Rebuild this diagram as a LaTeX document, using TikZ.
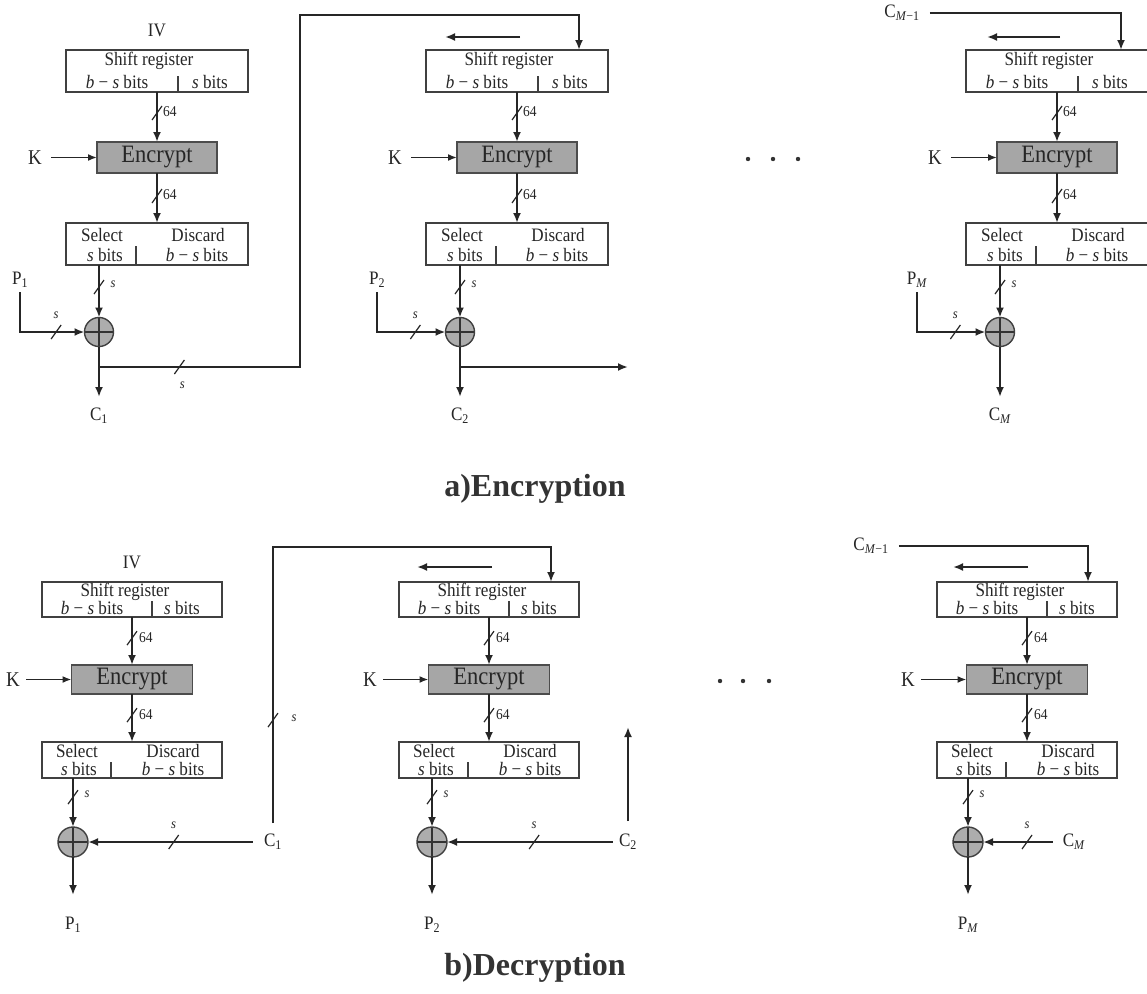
\documentclass[tikz,border=0pt]{standalone}
\usepackage{fontspec}
\setmainfont{Liberation Serif}
\newfontfamily\dgfont{Liberation Serif}[FakeStretch=0.9]
\usetikzlibrary{arrows.meta,calc}
\tikzset{
  slash/.pic={\draw[-, black!85, line width=1.2pt] (-5,7) -- (5,-7);},
  reg/.style={draw=black!75, line width=1.5pt, fill=white, minimum width=182pt, inner sep=0pt, outer sep=0pt},
  encbox/.style={draw=black!70, line width=1.5pt, fill=black!35, minimum width=120pt, inner sep=0pt, outer sep=0pt, font=\dgfont\fontsize{25}{26}\selectfont, text=black!85},
  xorc/.style={circle, draw=black!75, line width=1.4pt, fill=black!32, minimum size=29pt, inner sep=0pt, outer sep=0pt, path picture={\draw[black!80, line width=1.1pt] (path picture bounding box.west) -- (path picture bounding box.east) (path picture bounding box.north) -- (path picture bounding box.south);}},
  btxt/.style={inner sep=0pt, font=\dgfont\fontsize{19}{20}\selectfont, text=black!85},
  lbl/.style={inner sep=1pt, font=\dgfont\fontsize{19}{20}\selectfont, text=black!85},
  klbl/.style={inner sep=1pt, font=\dgfont\fontsize{21}{22}\selectfont, text=black!85},
  nlbl/.style={inner sep=0pt, font=\dgfont\fontsize{15}{16}\selectfont, text=black!85},
  slbl/.style={inner sep=0pt, font=\dgfont\fontsize{14}{15}\selectfont\itshape, text=black!85},
  arr/.style={-{Latex[length=10pt,width=8pt]}, line width=2.3pt, draw=black!85},
  karr/.style={-{Latex[length=9pt,width=7pt]}, line width=1.7pt, draw=black!85},
  divline/.style={draw=black!75, line width=1.3pt},
  captxt/.style={inner sep=0pt, font=\fontsize{32}{34}\selectfont\bfseries, text=black!80},
}
\newcommand\TopCore[3]{%
  \node[reg, minimum height=42pt] (sr#1) at (#2,71) {};
  \node[btxt] (srt#1) at (#2-8,61) {Shift register};
  \node[btxt] (srl#1) at (#2-40,82) {\textit{b} − \textit{s} bits};
  \node[btxt] (srr#1) at (#2+53,82) {\textit{s} bits};
  \draw[divline] (#2+21,76) -- (#2+21,92);
  \node[encbox, minimum height=31pt] (enc#1) at (#2,157.5) {Encrypt};
  \node[klbl] (k#1) at (#2-122,157.5) {K};
  \draw[karr, shorten <=8pt] (k#1) -- (enc#1);
  \node[reg, minimum height=42pt] (sel#1) at (#2,244) {};
  \node[btxt] (selt#1) at (#2-55,235) {Select};
  \node[btxt] (dist#1) at (#2+41,235) {Discard};
  \node[btxt] (sell#1) at (#2-52,255) {\textit{s} bits};
  \node[btxt] (disl#1) at (#2+40,255) {\textit{b} − \textit{s} bits};
  \draw[divline] (#2-21,246) -- (#2-21,265);
  \node[xorc] (x#1) at (#3,332) {};
  \draw[arr] (sr#1) -- coordinate[pos=0.42] (ma#1) (enc#1);
  \pic at (ma#1) {slash};
  \node[nlbl, anchor=west] (na#1) at ($(ma#1)+(6,-1)$) {64};
  \draw[arr] (enc#1) -- coordinate[pos=0.46] (mb#1) (sel#1);
  \pic at (mb#1) {slash};
  \node[nlbl, anchor=west] (nb#1) at ($(mb#1)+(6,-1)$) {64};
  \draw[arr] (sel#1.south -| x#1) -- coordinate[pos=0.42] (mc#1) (x#1.north);
  \pic at (mc#1) {slash};
  \node[slbl] (nc#1) at ($(mc#1)+(14,-3)$) {s};
}
\newcommand\BotCore[3]{%
  \node[reg, minimum width=180pt, minimum height=35pt] (bsr#1) at (#2,599.5) {};
  \node[btxt] (bsrt#1) at (#2-7,592) {Shift register};
  \node[btxt] (bsrl#1) at (#2-40,608) {\textit{b} − \textit{s} bits};
  \node[btxt] (bsrr#1) at (#2+50,608) {\textit{s} bits};
  \draw[divline] (#2+20,601) -- (#2+20,617);
  \node[encbox, minimum width=121pt, minimum height=29pt] (benc#1) at (#2,679.5) {Encrypt};
  \node[klbl] (bk#1) at (#2-119,679.5) {K};
  \draw[karr, shorten <=5pt] (bk#1) -- (benc#1);
  \node[reg, minimum width=180pt, minimum height=36pt] (bsel#1) at (#2,760) {};
  \node[btxt] (bselt#1) at (#2-55,751) {Select};
  \node[btxt] (bdist#1) at (#2+41,751) {Discard};
  \node[btxt] (bsell#1) at (#2-53,769) {\textit{s} bits};
  \node[btxt] (bdisl#1) at (#2+41,769) {\textit{b} − \textit{s} bits};
  \draw[divline] (#2-21,762) -- (#2-21,778);
  \node[xorc, minimum size=30pt] (bx#1) at (#3,842) {};
  \draw[arr] (bsr#1) -- coordinate[pos=0.44] (bma#1) (benc#1);
  \pic at (bma#1) {slash};
  \node[nlbl, anchor=west] (bna#1) at ($(bma#1)+(7,-1)$) {64};
  \draw[arr] (benc#1) -- coordinate[pos=0.44] (bmb#1) (bsel#1);
  \pic at (bmb#1) {slash};
  \node[nlbl, anchor=west] (bnb#1) at ($(bmb#1)+(7,-1)$) {64};
  \draw[arr] (bsel#1.south -| bx#1) -- coordinate[pos=0.39] (bmc#1) (bx#1.north);
  \pic at (bmc#1) {slash};
  \node[slbl] (bnc#1) at ($(bmc#1)+(14,-3)$) {s};
}
\begin{document}
\begin{tikzpicture}[x=1pt,y=-1pt]
\fill[white] (0,0) rectangle (1147,993);
\useasboundingbox (0,0) rectangle (1147,993);

% ---------------- a) Encryption ----------------
\TopCore{1}{157}{99}
\TopCore{2}{517}{460}
\TopCore{3}{1057}{1000}

\node[lbl] (iv1) at (157,30) {IV};

% stage 1
\node[lbl, anchor=north] (p1) at (20,271) {P\textsubscript{1}};
\coordinate (ps1) at (20,292);
\draw[arr] (ps1) |- coordinate[pos=0.78] (mp1) (x1.west);
\pic at (mp1) {slash};
\node[slbl] (lp1) at ($(mp1)+(0,-17)$) {s};
\node[lbl, anchor=north] (c1) at (99,407) {C\textsubscript{1}};
\draw[arr] (x1.south) -- ([yshift=10pt]c1.north);
\coordinate (j1) at ($(x1)+(0,35)$);
\coordinate (fb1) at (300,15);
\coordinate (t2) at ($(sr2.north)+(62,0)$);
\draw[arr] (j1) -| coordinate[pos=0.2] (mf1) (fb1) -| (t2);
\pic at (mf1) {slash};
\node[slbl] (lf1) at ($(mf1)+(3,18)$) {s};

% stage 2
\coordinate (la2) at (520,37);
\coordinate (lb2) at (445,37);
\draw[arr] (la2) -- (lb2);
\node[lbl, anchor=north] (p2) at (377,271) {P\textsubscript{2}};
\coordinate (ps2) at (377,292);
\draw[arr] (ps2) |- coordinate[pos=0.78] (mp2) (x2.west);
\pic at (mp2) {slash};
\node[slbl] (lp2) at ($(mp2)+(0,-17)$) {s};
\node[lbl, anchor=north] (c2) at (460,407) {C\textsubscript{2}};
\draw[arr] (x2.south) -- ([yshift=10pt]c2.north);
\coordinate (j2) at ($(x2)+(0,35)$);
\coordinate (o2) at (628,367);
\draw[arr] (j2) -- (o2);

% dots
\fill[black!80] (748,159) circle[radius=2.2pt] (773,159) circle[radius=2.2pt] (798,159) circle[radius=2.2pt];

% stage 3
\node[lbl] (cm1) at (902,13) {C\textsubscript{\textit{M}−1}};
\coordinate (t3) at ($(sr3.north)+(64,0)$);
\draw[arr, shorten <=9pt] (cm1.east) -| (t3);
\coordinate (la3) at (1060,37);
\coordinate (lb3) at (987,37);
\draw[arr] (la3) -- (lb3);
\node[lbl, anchor=north] (p3) at (917,271) {P\textsubscript{\textit{M}}};
\coordinate (ps3) at (917,292);
\draw[arr] (ps3) |- coordinate[pos=0.78] (mp3) (x3.west);
\pic at (mp3) {slash};
\node[slbl] (lp3) at ($(mp3)+(0,-17)$) {s};
\node[lbl, anchor=north] (c3) at (1000,407) {C\textsubscript{\textit{M}}};
\draw[arr] (x3.south) -- ([yshift=10pt]c3.north);

\node[captxt, anchor=base] (capa) at (535,496) {a)Encryption};

% ---------------- b) Decryption ----------------
\BotCore{1}{132}{73}
\BotCore{2}{489}{432}
\BotCore{3}{1027}{968}

\node[lbl] (iv2) at (132,562) {IV};

% stage 1
\node[lbl] (bc1) at (273,842) {C\textsubscript{1}};
\draw[arr, shorten <=10pt] (bc1.west) -- coordinate[pos=0.51] (mh1) (bx1.east);
\pic at (mh1) {slash};
\node[slbl] (lh1) at ($(mh1)+(0,-17)$) {s};
\coordinate (bf1) at (273,547);
\coordinate (bt2) at ($(bsr2.north)+(62,0)$);
\draw[arr, shorten <=10pt] (bc1.north) -- coordinate[pos=0.395] (mv1) (bf1) -| (bt2);
\pic at (mv1) {slash};
\node[slbl] (lv1) at ($(mv1)+(21,-2)$) {s};
\node[lbl, anchor=north] (bp1) at (73,916) {P\textsubscript{1}};
\draw[arr] (bx1.south) -- ([yshift=21pt]bp1.north);

% stage 2
\coordinate (bla2) at (492,567);
\coordinate (blb2) at (417,567);
\draw[arr] (bla2) -- (blb2);
\node[lbl] (bc2) at (628,842) {C\textsubscript{2}};
\draw[arr, shorten <=5pt] (bc2.west) -- coordinate[pos=0.49] (mh2) (bx2.east);
\pic at (mh2) {slash};
\node[slbl] (lh2) at ($(mh2)+(0,-17)$) {s};
\coordinate (up2) at (628,727);
\draw[arr, shorten <=12pt] (bc2.north) -- (up2);
\node[lbl, anchor=north] (bp2) at (432,916) {P\textsubscript{2}};
\draw[arr] (bx2.south) -- ([yshift=21pt]bp2.north);

% dots
\fill[black!80] (720,681) circle[radius=2.2pt] (743,681) circle[radius=2.2pt] (769,681) circle[radius=2.2pt];

% stage 3
\node[lbl] (bcm1) at (871,546) {C\textsubscript{\textit{M}−1}};
\coordinate (bt3) at ($(bsr3.north)+(61,0)$);
\draw[arr, shorten <=9pt] (bcm1.east) -| (bt3);
\coordinate (bla3) at (1028,567);
\coordinate (blb3) at (953,567);
\draw[arr] (bla3) -- (blb3);
\node[lbl] (bc3) at (1074,842) {C\textsubscript{\textit{M}}};
\draw[arr, shorten <=9pt] (bc3.west) -- coordinate[pos=0.44] (mh3) (bx3.east);
\pic at (mh3) {slash};
\node[slbl] (lh3) at ($(mh3)+(0,-17)$) {s};
\node[lbl, anchor=north] (bp3) at (968,916) {P\textsubscript{\textit{M}}};
\draw[arr] (bx3.south) -- ([yshift=21pt]bp3.north);

\node[captxt, anchor=base] (capb) at (535,975) {b)Decryption};
\end{tikzpicture}
\end{document}
